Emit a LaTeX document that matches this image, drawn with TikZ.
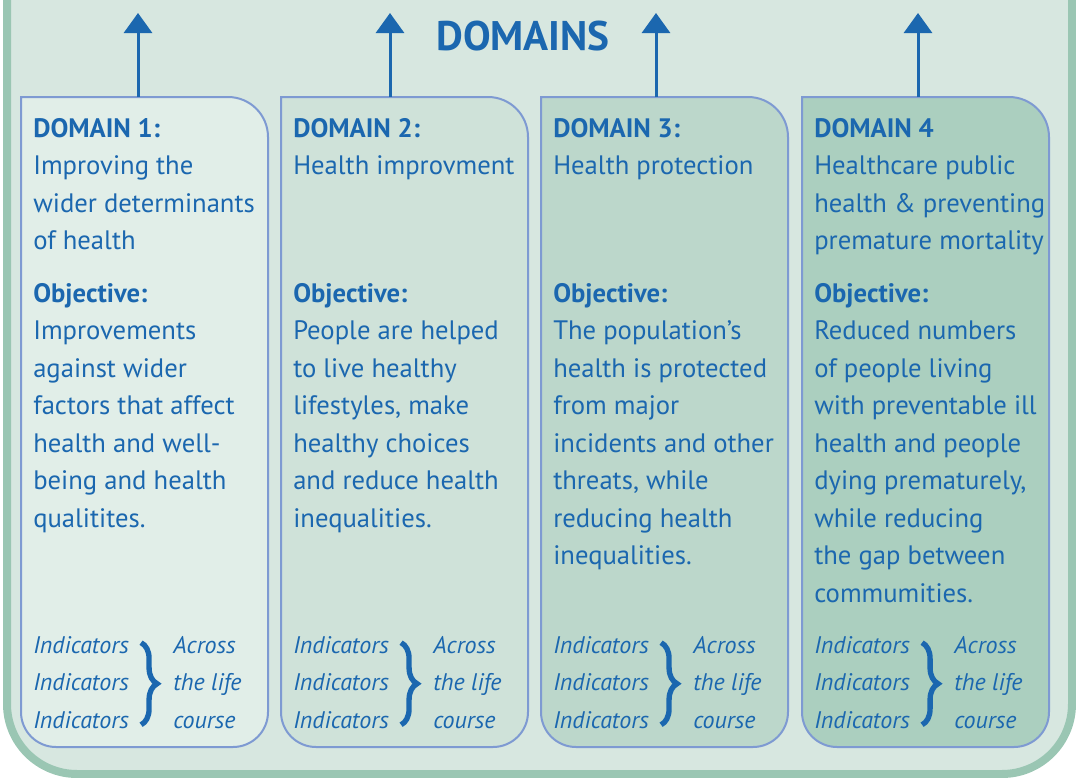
\documentclass[tikz,border=0pt]{standalone}
\usepackage{fontspec}
\setmainfont{PT Sans}
\usetikzlibrary{arrows.meta, calc, positioning, decorations.pathreplacing}
\tikzset{>=latex}
\definecolor{domblue}{HTML}{1B67AF}
\definecolor{framegreen}{HTML}{9AC6B3}
\definecolor{backfill}{HTML}{D7E7E0}
\definecolor{boxline}{HTML}{7E9AD2}
\definecolor{fillone}{HTML}{E1EEE8}
\definecolor{filltwo}{HTML}{CFE2D9}
\definecolor{fillthree}{HTML}{BCD7CB}
\definecolor{fillfour}{HTML}{ABCFBF}
\tikzset{
  domtext/.style={anchor=north west, inner sep=0, align=left, text=domblue, font=\fontsize{20}{28.1}\selectfont},
  indtext/.style={domtext, font=\fontsize{18}{28.1}\selectfont\itshape},
  domarrow/.style={-{Triangle[width=21pt,length=15pt]}, line width=2.25pt, draw=domblue},
  dombox/.style={draw=boxline, line width=1.5pt},
  lifebrace/.style={decorate, decoration={brace, amplitude=12pt}, draw=domblue, line width=4pt}
}
% box with one square corner: left x, fill
\newcommand{\domainbox}[2]{%
  \draw[dombox, fill=#2] (#1,-712) -- (#1,-97) -- ++(207,0)
    arc[start angle=90, end angle=0, radius=40] -- ++(0,-575)
    arc[start angle=0, end angle=-90, radius=35] -- ++(-177,0)
    arc[start angle=270, end angle=180, radius=35] -- cycle;
}

\begin{document}
\begin{tikzpicture}[x=0.75pt, y=0.75pt]

\useasboundingbox (0,0) rectangle (1076,-778);

% outer frame
\draw[line width=6pt, draw=framegreen, fill=backfill]
    (7,10) -- (7,-704) arc[start angle=180, end angle=270, radius=70]
    -- (1002,-774) arc[start angle=270, end angle=360, radius=70] -- (1072,10);

\node[font=\bfseries\fontsize{31}{31}\selectfont, text=domblue] (domains) at (523,-36) {DOMAINS};

% the four domain boxes
\domainbox{21}{fillone}
\domainbox{281}{filltwo}
\domainbox{541}{fillthree}
\domainbox{802}{fillfour}

% arrows up
\foreach \x [count=\i] in {138,390,656,918} {
  \coordinate (base\i) at (\x,-97);
  \coordinate (tip\i) at (\x,-13);
  \draw[domarrow] (base\i) -- (tip\i);
}

% Domain 1
\node[domtext] (d1title) at (33,-118) {\textbf{DOMAIN 1:}\\Improving the\\wider determinants\\of health};
\node[domtext] (d1obj) at (33,-283) {\textbf{Objective:}\\Improvements\\against wider\\factors that affect\\health and well-\\being and health\\qualitites.};
\node[indtext] (d1ind) at (33,-636) {Indicators\\Indicators\\Indicators};
\node[indtext, right=33pt of d1ind] (d1life) {Across\\the life\\course};
\draw[lifebrace] ($(d1ind.north east)+(9pt,-5pt)$) -- ($(d1ind.south east)+(9pt,3pt)$);

% Domain 2
\node[domtext] (d2title) at (293,-118) {\textbf{DOMAIN 2:}\\Health improvment};
\node[domtext] (d2obj) at (293,-283) {\textbf{Objective:}\\People are helped\\to live healthy\\lifestyles, make\\healthy choices\\and reduce health\\inequalities.};
\node[indtext] (d2ind) at (293,-636) {Indicators\\Indicators\\Indicators};
\node[indtext, right=33pt of d2ind] (d2life) {Across\\the life\\course};
\draw[lifebrace] ($(d2ind.north east)+(9pt,-5pt)$) -- ($(d2ind.south east)+(9pt,3pt)$);

% Domain 3
\node[domtext] (d3title) at (553,-118) {\textbf{DOMAIN 3:}\\Health protection};
\node[domtext] (d3obj) at (553,-283) {\textbf{Objective:}\\The population’s\\health is protected\\from major\\incidents and other\\threats, while\\reducing health\\inequalities.};
\node[indtext] (d3ind) at (553,-636) {Indicators\\Indicators\\Indicators};
\node[indtext, right=33pt of d3ind] (d3life) {Across\\the life\\course};
\draw[lifebrace] ($(d3ind.north east)+(9pt,-5pt)$) -- ($(d3ind.south east)+(9pt,3pt)$);

% Domain 4
\node[domtext] (d4title) at (814,-118) {\textbf{DOMAIN 4}\\Healthcare public\\health \& preventing\\premature mortality};
\node[domtext] (d4obj) at (814,-283) {\textbf{Objective:}\\Reduced numbers\\of people living\\with preventable ill\\health and people\\dying prematurely,\\while reducing\\the gap between\\commumities.};
\node[indtext] (d4ind) at (814,-636) {Indicators\\Indicators\\Indicators};
\node[indtext, right=33pt of d4ind] (d4life) {Across\\the life\\course};
\draw[lifebrace] ($(d4ind.north east)+(9pt,-5pt)$) -- ($(d4ind.south east)+(9pt,3pt)$);

\end{tikzpicture}
\end{document}
